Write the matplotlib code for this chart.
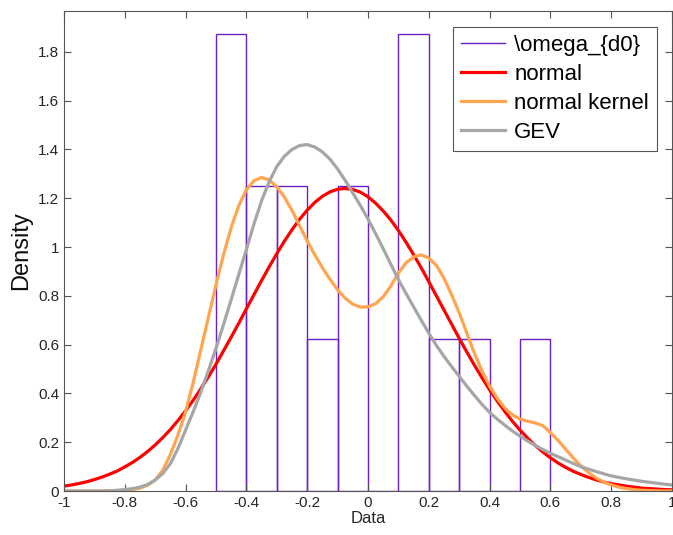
"""
histogram of \omega_{d0} with fitted densities (normal, kernel, GEV)
"""

import numpy as np
import matplotlib.pyplot as plt
from matplotlib.lines import Line2D

plt.rcParams['font.family'] = ['Liberation Sans', 'DejaVu Sans']

# histogram: bin edges + density heights (16 samples, bin width 0.1)
bin_edges = [-0.5, -0.4, -0.3, -0.2, -0.1, 0.0, 0.1, 0.2, 0.3, 0.4, 0.5, 0.6]
bin_density = [1.875, 1.25, 1.25, 0.625, 1.25, 0.0, 1.875, 0.625, 0.625, 0.0, 0.625]

# fitted curves at x = -1 : 0.025 : 1
x_grid = np.linspace(-1, 1, 81)
normal_pdf = [0.020, 0.025, 0.031, 0.038, 0.047, 0.057, 0.069, 0.082, 0.099, 0.117,
              0.138, 0.162, 0.189, 0.219, 0.252, 0.289, 0.329, 0.372, 0.419, 0.468,
              0.520, 0.575, 0.631, 0.688, 0.747, 0.805, 0.863, 0.919, 0.973, 1.024,
              1.071, 1.114, 1.151, 1.183, 1.208, 1.226, 1.237, 1.240, 1.236, 1.225,
              1.206, 1.180, 1.148, 1.111, 1.068, 1.020, 0.969, 0.915, 0.858, 0.800,
              0.742, 0.684, 0.626, 0.570, 0.516, 0.464, 0.415, 0.369, 0.326, 0.286,
              0.250, 0.217, 0.187, 0.160, 0.136, 0.115, 0.097, 0.081, 0.068, 0.056,
              0.046, 0.037, 0.030, 0.025, 0.020, 0.016, 0.012, 0.010, 0.008, 0.006,
              0.005]
kernel_pdf = [0.000, 0.000, 0.000, 0.000, 0.000, 0.000, 0.001, 0.001, 0.003, 0.006,
              0.012, 0.024, 0.045, 0.085, 0.150, 0.230, 0.325, 0.445, 0.578, 0.712,
              0.845, 0.970, 1.080, 1.170, 1.235, 1.272, 1.285, 1.275, 1.247, 1.205,
              1.150, 1.088, 1.025, 0.968, 0.915, 0.868, 0.825, 0.790, 0.766, 0.754,
              0.755, 0.768, 0.796, 0.840, 0.893, 0.935, 0.960, 0.968, 0.955, 0.925,
              0.872, 0.805, 0.730, 0.648, 0.565, 0.492, 0.430, 0.380, 0.340, 0.312,
              0.295, 0.286, 0.279, 0.268, 0.240, 0.208, 0.172, 0.136, 0.103, 0.076,
              0.054, 0.037, 0.025, 0.016, 0.010, 0.006, 0.003, 0.002, 0.001, 0.000,
              0.000]
gev_pdf = [0.000, 0.000, 0.000, 0.000, 0.000, 0.000, 0.001, 0.003, 0.006, 0.010,
           0.016, 0.027, 0.045, 0.072, 0.112, 0.175, 0.250, 0.325, 0.405, 0.493,
           0.585, 0.683, 0.785, 0.888, 0.990, 1.095, 1.190, 1.268, 1.330, 1.372,
           1.400, 1.416, 1.420, 1.410, 1.390, 1.360, 1.320, 1.273, 1.222, 1.170,
           1.115, 1.055, 0.993, 0.930, 0.867, 0.810, 0.755, 0.700, 0.647, 0.597,
           0.552, 0.510, 0.470, 0.430, 0.392, 0.355, 0.322, 0.295, 0.270, 0.246,
           0.225, 0.205, 0.187, 0.170, 0.155, 0.141, 0.127, 0.113, 0.100, 0.090,
           0.080, 0.071, 0.062, 0.056, 0.050, 0.045, 0.040, 0.036, 0.032, 0.028,
           0.025]

labels = [r"\omega_{d0}", "normal", "normal kernel", "GEV"]
purple = '#6a1fc8'
red = '#ff0000'
orange = '#ffa54f'
grey = '#a6a6a6'

fig = plt.figure(figsize=(6.73, 5.35), dpi=100)
ax = fig.add_axes([0.0951, 0.0822, 0.9034, 0.8978])

ax.bar(bin_edges[:-1], bin_density, width=0.1, align='edge', fill=False,
       edgecolor=purple, linewidth=1.0)
ax.plot(x_grid, normal_pdf, color=red, lw=2.3)
ax.plot(x_grid, kernel_pdf, color=orange, lw=2.3)
ax.plot(x_grid, gev_pdf, color=grey, lw=2.3)

ax.set_xlim(-1, 1)
ax.set_ylim(0, 1.96875)
ax.set_xticks(np.arange(-1, 1.01, 0.2))
ax.set_xticklabels(['-1', '-0.8', '-0.6', '-0.4', '-0.2', '0', '0.2', '0.4', '0.6', '0.8', '1'])
ax.set_yticks(np.arange(0, 1.81, 0.2))
ax.set_yticklabels(['0', '0.2', '0.4', '0.6', '0.8', '1', '1.2', '1.4', '1.6', '1.8'])
ax.tick_params(direction='in', length=5, width=0.8, color='#555555',
               labelcolor='#262626', labelsize=11, top=True, right=True)
for s in ax.spines.values():
    s.set_color('#555555')
    s.set_linewidth(0.8)

ax.set_xlabel('Data', fontsize=12, color='#262626', labelpad=1)
ax.set_ylabel('Density', fontsize=17, color='#111111', labelpad=4)

handles = [Line2D([], [], color=purple, lw=1.0),
           Line2D([], [], color=red, lw=2.3),
           Line2D([], [], color=orange, lw=2.3),
           Line2D([], [], color=grey, lw=2.3)]
leg = ax.legend(handles, labels, loc='upper right', bbox_to_anchor=(0.975, 0.966),
                borderaxespad=0, fontsize=16, fancybox=False, framealpha=1,
                edgecolor='#555555', handlelength=2.0, handletextpad=0.4,
                labelspacing=0.36, borderpad=0.35)
leg.get_frame().set_linewidth(0.8)

fig.savefig('out.png', dpi=100)
